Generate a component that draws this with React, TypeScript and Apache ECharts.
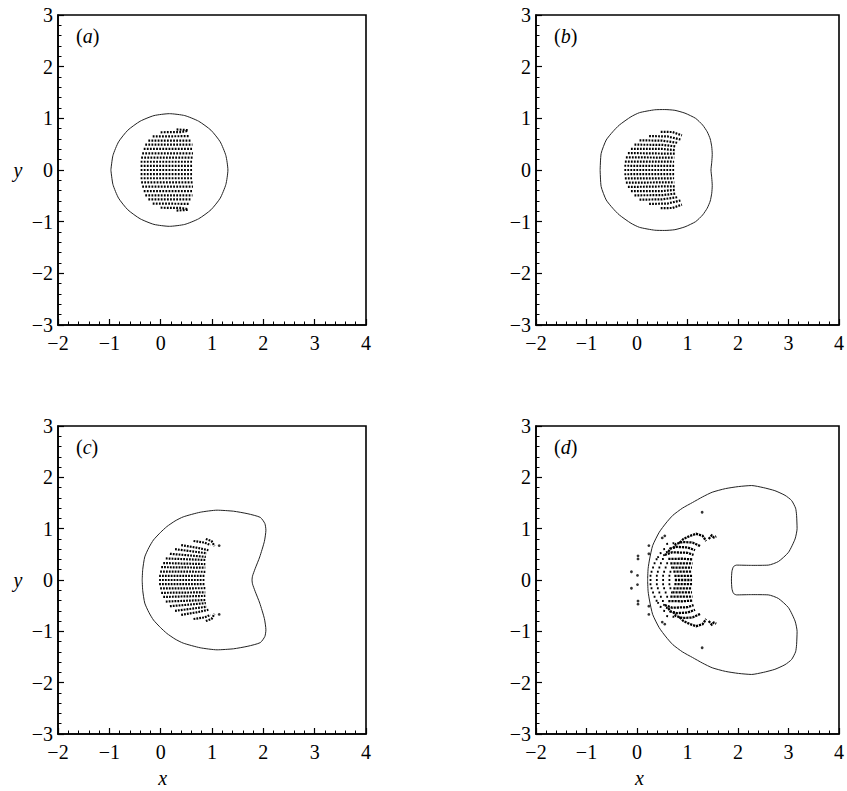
import React, { useEffect, useRef } from "react";
import * as echarts from "echarts";

// ---------- data (upper halves; shapes are symmetric about y = 0) ----------
const xRange = [-2, 4];
const yRange = [-3, 3];
const panelLetters = ["a", "b", "c", "d"];

// outer contour, upper half, from the leftmost point (y = 0) over the top to the right (y = 0)
const contourA = [
  [-0.97, 0], [-0.93, 0.28], [-0.82, 0.545], [-0.64, 0.77], [-0.4, 0.944], [-0.13, 1.053], [0.17, 1.09],
  [0.47, 1.053], [0.74, 0.944], [0.98, 0.77], [1.16, 0.545], [1.27, 0.28], [1.31, 0],
];
const contourB = [
  [-0.73, 0], [-0.71, 0.32], [-0.61, 0.58], [-0.48, 0.74], [-0.35, 0.87], [-0.12, 1.03], [0.05, 1.11],
  [0.35, 1.165], [0.55, 1.17], [0.75, 1.155], [0.95, 1.1], [1.16, 1.0], [1.3, 0.87], [1.39, 0.74],
  [1.45, 0.6], [1.48, 0.45], [1.49, 0.3], [1.48, 0.15], [1.465, 0],
];
const contourC = [
  [-0.36, 0], [-0.35, 0.2], [-0.31, 0.45], [-0.23, 0.63], [-0.14, 0.78], [0.0, 0.93], [0.12, 1.04],
  [0.28, 1.15], [0.44, 1.23], [0.77, 1.32], [1.1, 1.36], [1.42, 1.34], [1.7, 1.29], [1.94, 1.22],
  [2.03, 1.1], [2.05, 0.97], [2.02, 0.75], [1.93, 0.45], [1.84, 0.22], [1.79, 0.08], [1.78, 0],
];
const contourD = [
  [0.21, 0], [0.22, 0.22], [0.25, 0.41], [0.31, 0.67], [0.44, 0.93], [0.575, 1.11], [0.71, 1.26],
  [0.9, 1.4], [1.1, 1.51], [1.3, 1.62], [1.49, 1.71], [1.75, 1.78], [2.01, 1.82], [2.27, 1.84],
  [2.5, 1.8], [2.73, 1.74], [2.93, 1.65], [3.06, 1.55], [3.14, 1.4], [3.16, 1.26], [3.17, 1.0],
  [3.13, 0.8], [3.0, 0.54], [2.8, 0.36], [2.6, 0.29], [2.27, 0.285], [1.97, 0.29], [1.91, 0.26],
  [1.88, 0.17], [1.87, 0],
];

// rows of marked particles (dotted), upper half incl. the centre row
const rowsA = [
  [[0.31, 0.785], [0.54, 0.77]],
  [[0.0, 0.73], [0.4, 0.735], [0.52, 0.755]],
  [[-0.155, 0.65], [0.57, 0.655]],
  [[-0.24, 0.57], [0.6, 0.57]],
  [[-0.3, 0.49], [0.62, 0.49]],
  [[-0.33, 0.41], [0.63, 0.41]],
  [[-0.36, 0.32], [0.63, 0.32]],
  [[-0.38, 0.24], [0.63, 0.24]],
  [[-0.39, 0.16], [0.63, 0.16]],
  [[-0.39, 0.08], [0.63, 0.08]],
  [[-0.39, 0.0], [0.63, 0.0]],
];
const rowsB = [
  [[0.47, 0.738], [0.7, 0.735], [0.89, 0.67]],
  [[0.24, 0.656], [0.6, 0.65], [0.86, 0.59]],
  [[0.05, 0.574], [0.5, 0.568], [0.81, 0.525]],
  [[-0.05, 0.49], [0.5, 0.487], [0.78, 0.455]],
  [[-0.12, 0.41], [0.5, 0.407], [0.76, 0.385]],
  [[-0.18, 0.328], [0.75, 0.315]],
  [[-0.22, 0.246], [0.74, 0.238]],
  [[-0.24, 0.164], [0.735, 0.16]],
  [[-0.25, 0.082], [0.735, 0.08]],
  [[-0.25, 0.0], [0.735, 0.0]],
];
const rowsC = [
  [[0.88, 0.8], [0.99, 0.76], [1.05, 0.66]],
  [[0.64, 0.76], [0.85, 0.73], [0.97, 0.68]],
  [[0.4, 0.68], [0.7, 0.63], [0.93, 0.58]],
  [[0.28, 0.6], [0.6, 0.56], [0.9, 0.52]],
  [[0.18, 0.51], [0.55, 0.48], [0.88, 0.45]],
  [[0.1, 0.42], [0.87, 0.39]],
  [[0.05, 0.33], [0.87, 0.31]],
  [[0.01, 0.25], [0.87, 0.24]],
  [[-0.01, 0.165], [0.87, 0.16]],
  [[-0.03, 0.082], [0.87, 0.08]],
  [[-0.03, 0.0], [0.87, 0.0]],
];
const rowsDSparse = [
  [[0.25, 0.0], [0.75, 0.0]],
  [[0.25, 0.081], [0.74, 0.081]],
  [[0.27, 0.162], [0.72, 0.162]],
  [[0.3, 0.243], [0.7, 0.243]],
  [[0.33, 0.324], [0.66, 0.324]],
  [[0.37, 0.405], [0.62, 0.41]],
  [[0.4, 0.44], [0.55, 0.49]],
  [[0.45, 0.52], [0.62, 0.55]],
  [[0.52, 0.6], [0.72, 0.62]],
  [[0.58, 0.7], [0.85, 0.73]],
];
const rowsDDense = [
  [[0.75, 0.0], [1.09, 0.0]],
  [[0.74, 0.081], [1.09, 0.081]],
  [[0.72, 0.162], [1.09, 0.162]],
  [[0.7, 0.243], [1.09, 0.243]],
  [[0.66, 0.324], [1.1, 0.324]],
  [[0.62, 0.41], [0.9, 0.415], [1.1, 0.4]],
  [[0.55, 0.49], [0.7, 0.54], [1.0, 0.53], [1.12, 0.49]],
  [[0.62, 0.55], [0.66, 0.61], [0.78, 0.645], [1.0, 0.635], [1.15, 0.58]],
  [[0.72, 0.62], [0.77, 0.7], [0.9, 0.74], [1.1, 0.73], [1.25, 0.66]],
  [[0.85, 0.73], [0.92, 0.8], [1.05, 0.86], [1.17, 0.9], [1.3, 0.86], [1.37, 0.76]],
  [[1.42, 0.8], [1.48, 0.87], [1.52, 0.83], [1.57, 0.85]],
];
const dotsC = [[1.14, 0.67]];
const dotsD = [
  [-0.11, 0.16], [0.01, 0.09], [0.02, 0.41], [0.02, 0.47], [0.235, 0.51], [0.235, 0.67],
  [0.5, 0.82], [0.55, 0.86], [1.29, 1.32],
];

// ---------- helpers ----------
const closeContour = (upper: number[][]) => [
  ...upper,
  ...upper.slice(0, -1).reverse().map(([x, y]) => [x, -y]),
];
const mirrorRows = (rows: number[][][]) => [
  ...rows,
  ...rows.filter((r) => r.some(([, y]) => y !== 0)).map((r) => r.map(([x, y]) => [x, -y])),
];
const mirrorDots = (pts: number[][]) => [...pts, ...pts.map(([x, y]) => [x, -y])];

const SERIF = "Liberation Serif";
const tickText = (v: number) => "{s|" + (v < 0 ? "\u2212" + Math.abs(v) : String(v)) + "}";

const grids = [
  { left: 58, top: 15, width: 308, height: 310 },
  { left: 536, top: 15, width: 305, height: 310 },
  { left: 58, top: 426, width: 308, height: 308 },
  { left: 536, top: 426, width: 304, height: 308 },
];

export default function App() {
  const ref = useRef<HTMLDivElement>(null);
  useEffect(() => {
    document.body.style.margin = "0";
    if (!ref.current) return;
    const chart = echarts.init(ref.current, undefined, { renderer: "svg" });

    const labelStyle = {
      fontFamily: SERIF,
      fontSize: 20,
      color: "#000",
      formatter: tickText,
      rich: { s: { fontFamily: SERIF, fontSize: 20, color: "#000" } },
    };
    const axisCommon = {
      type: "value",
      axisLine: { show: true, onZero: false, lineStyle: { color: "#000", width: 1.6 } },
      axisTick: { show: true, inside: true, length: 6, lineStyle: { color: "#000", width: 1.2 } },
      minorTick: { show: true, splitNumber: 5, length: 3.5, lineStyle: { color: "#000", width: 1 } },
      splitLine: { show: false },
      minorSplitLine: { show: false },
    };
    const xAxes = grids.map((_, i) => ({
      ...axisCommon,
      gridIndex: i,
      min: xRange[0],
      max: xRange[1],
      interval: 1,
      axisLabel: { ...labelStyle, margin: 8 },
    }));
    const yAxes = grids.map((_, i) => ({
      ...axisCommon,
      gridIndex: i,
      min: yRange[0],
      max: yRange[1],
      interval: 1,
      axisLabel: { ...labelStyle, margin: 5 },
    }));

    const contours = [contourA, contourB, contourC, contourD];
    const series: any[] = [];
    contours.forEach((c, i) => {
      series.push({
        type: "line",
        xAxisIndex: i,
        yAxisIndex: i,
        data: closeContour(c),
        showSymbol: false,
        symbol: "none",
        smooth: 0.2,
        silent: true,
        lineStyle: { color: "#222", width: 1 },
      });
    });
    const dotted = (i: number, rows: number[][][], dash: number[], width: number) => ({
      type: "lines",
      coordinateSystem: "cartesian2d",
      xAxisIndex: i,
      yAxisIndex: i,
      polyline: true,
      silent: true,
      data: mirrorRows(rows).map((r) => ({ coords: r })),
      lineStyle: { color: "#000", width, type: dash, cap: "butt", opacity: 1 },
    });
    series.push(dotted(0, rowsA, [1.8, 1.3], 2.2));
    series.push(dotted(1, rowsB, [1.8, 1.2], 2.2));
    series.push(dotted(2, rowsC, [1.8, 1.1], 2.2));
    series.push(dotted(3, rowsDSparse, [1.8, 4.5], 2.0));
    series.push(dotted(3, rowsDDense, [2.2, 0.9], 2.3));
    const scatter = (i: number, pts: number[][]) => ({
      type: "scatter",
      xAxisIndex: i,
      yAxisIndex: i,
      data: mirrorDots(pts),
      symbolSize: 2.8,
      silent: true,
      itemStyle: { color: "#000" },
    });
    series.push(scatter(2, dotsC));
    series.push(scatter(3, dotsD));

    const graphic: any[] = [];
    grids.forEach((g, i) => {
      graphic.push({
        type: "text",
        left: g.left + 18,
        top: g.top + 11,
        silent: true,
        style: {
          text: "{p|(}{i|" + panelLetters[i] + "}{p|)}",
          rich: {
            p: { fontFamily: SERIF, fontSize: 20, fill: "#000" },
            i: { fontFamily: SERIF, fontSize: 20, fontStyle: "italic", fill: "#000" },
          },
        },
      });
    });
    [grids[0], grids[2]].forEach((g) => {
      graphic.push({
        type: "text",
        x: 18,
        y: g.top + g.height / 2,
        silent: true,
        style: {
          text: "y",
          fontFamily: SERIF,
          fontSize: 20,
          fontStyle: "italic",
          fill: "#000",
          align: "center",
          verticalAlign: "middle",
        },
      });
    });
    [grids[2], grids[3]].forEach((g) => {
      graphic.push({
        type: "text",
        x: g.left + g.width * (2 / 6) + 2,
        y: 778,
        silent: true,
        style: {
          text: "x",
          fontFamily: SERIF,
          fontSize: 20,
          fontStyle: "italic",
          fill: "#000",
          align: "center",
          verticalAlign: "middle",
        },
      });
    });

    chart.setOption({
      animation: false,
      backgroundColor: "#fff",
      textStyle: { fontFamily: SERIF, fontSize: 20, color: "#000" },
      grid: grids.map((g) => ({ ...g, show: true, borderColor: "#000", borderWidth: 1.6, containLabel: false })),
      xAxis: xAxes,
      yAxis: yAxes,
      series,
      graphic,
    });
    return () => chart.dispose();
  }, []);
  return <div ref={ref} style={{ width: 847, height: 791 }} />;
}
